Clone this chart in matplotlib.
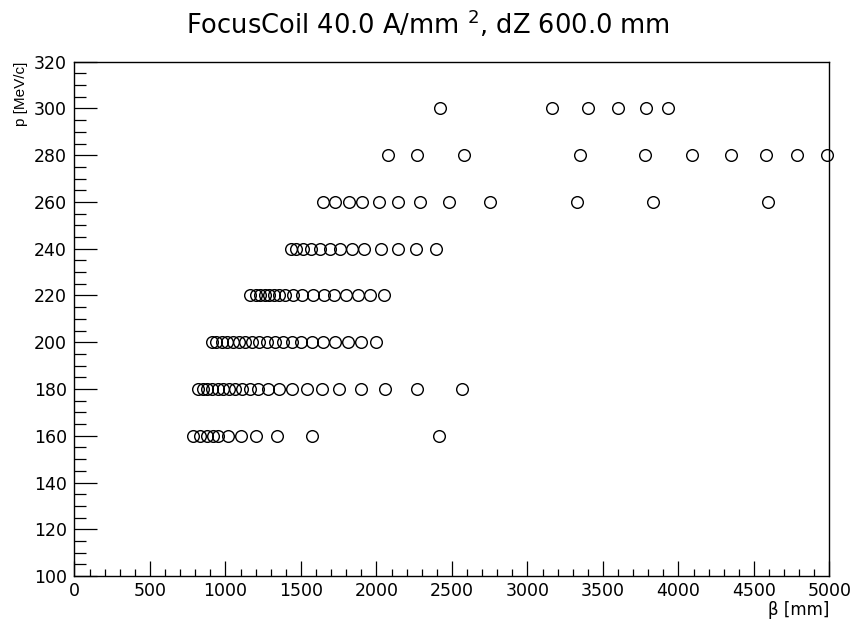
import matplotlib
matplotlib.use('Agg')
import matplotlib.pyplot as plt
from matplotlib.ticker import MultipleLocator

plt.rcParams['font.family'] = ['DejaVu Sans']
plt.rcParams['mathtext.fontset'] = 'dejavusans'

# beta [mm] for each momentum row p [MeV/c]
beta_160 = [787, 831, 875, 915, 952, 1019, 1101, 1200, 1339, 1575, 2415]
beta_180 = [820, 849, 879, 913, 948, 985, 1025, 1063, 1107, 1162, 1217, 1283,
            1354, 1442, 1538, 1637, 1754, 1897, 2056, 2270, 2564]
beta_200 = [909, 937, 975, 1012, 1052, 1089, 1129, 1174, 1224, 1277, 1328, 1379,
            1438, 1500, 1575, 1648, 1725, 1809, 1897, 1997]
beta_220 = [1165, 1200, 1230, 1260, 1290, 1320, 1355, 1395, 1445, 1510, 1580,
            1650, 1720, 1795, 1875, 1960, 2050]
beta_240 = [1434, 1468, 1515, 1566, 1626, 1690, 1760, 1835, 1915, 2030, 2142,
            2262, 2394]
beta_260 = [1648, 1727, 1820, 1906, 2017, 2142, 2290, 2481, 2752, 3326, 3833, 4595]
beta_280 = [2078, 2266, 2581, 3348, 3778, 4087, 4346, 4579, 4787, 4985]
beta_300 = [2418, 3160, 3403, 3601, 3783, 3932]

momenta = [160, 180, 200, 220, 240, 260, 280, 300]
betas = [beta_160, beta_180, beta_200, beta_220, beta_240, beta_260, beta_280, beta_300]

fig = plt.figure(figsize=(8.55, 6.24), dpi=100)
ax = fig.add_axes([0.0871, 0.0769, 0.8830, 0.8242])

for p, b in zip(momenta, betas):
    ax.plot(b, [p] * len(b), linestyle='none', marker='o', markersize=8.4,
            markerfacecolor='none', markeredgecolor='black', markeredgewidth=1.0,
            clip_on=False)

ax.set_xlim(0, 5000)
ax.set_ylim(100, 320)
ax.xaxis.set_major_locator(MultipleLocator(500))
ax.xaxis.set_minor_locator(MultipleLocator(100))
ax.yaxis.set_major_locator(MultipleLocator(20))
ax.yaxis.set_minor_locator(MultipleLocator(5))

# tick lengths in points (100 dpi: 1 px = 0.72 pt)
ax.tick_params(axis='x', which='major', direction='in', length=10.8, width=0.9,
               labelsize=12.5, pad=4)
ax.tick_params(axis='x', which='minor', direction='in', length=5.4, width=0.9)
ax.tick_params(axis='y', which='major', direction='in', length=16.5, width=0.9,
               labelsize=12.5, pad=5.5)
ax.tick_params(axis='y', which='minor', direction='in', length=8.3, width=0.9)
for s in ax.spines.values():
    s.set_linewidth(1.0)

ax.set_xlabel('β [mm]', fontsize=12, loc='right', labelpad=1)
ax.set_ylabel('p [MeV/c]', fontsize=11, loc='top', labelpad=4,
              family='Liberation Sans')

fig.suptitle('FocusCoil 40.0 A/mm $^{2}$, dZ 600.0 mm', fontsize=18.5, y=0.987)

fig.savefig('out.png', dpi=100)
